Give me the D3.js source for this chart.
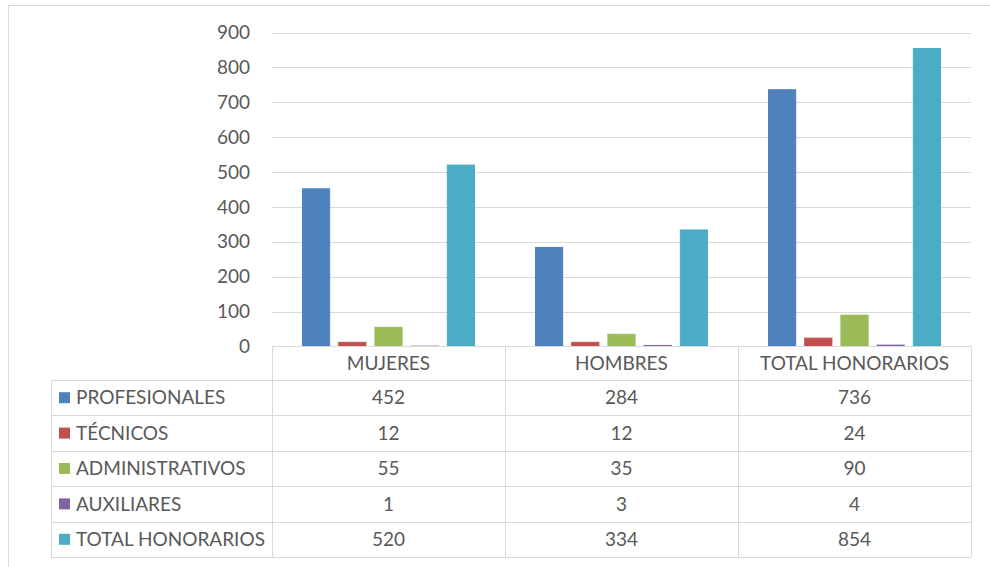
<!DOCTYPE html>
<html>
<head>
<meta charset="utf-8">
<script src="https://cdn.jsdelivr.net/npm/d3@7"></script>
<style>
  body { margin: 0; background: #fff; }
  text { font-family: Lato, "Open Sans", sans-serif; fill: #595959; }
</style>
</head>
<body>
<div id="chart"></div>
<script>
// data
var categories = ["MUJERES", "HOMBRES", "TOTAL HONORARIOS"];
var seriesNames = ["PROFESIONALES", "TÉCNICOS", "ADMINISTRATIVOS", "AUXILIARES", "TOTAL HONORARIOS"];
var profesionales = [452, 284, 736];
var tecnicos = [12, 12, 24];
var administrativos = [55, 35, 90];
var auxiliares = [1, 3, 4];
var totalHonorarios = [520, 334, 854];
var yTicks = [0, 100, 200, 300, 400, 500, 600, 700, 800, 900];
var colors = ["#4F81BD", "#C0504D", "#9BBB59", "#8064A2", "#4BACC6"];

var values = [profesionales, tecnicos, administrativos, auxiliares, totalHonorarios];

var W = 990, H = 567;
var plot = { left: 272, right: 971, top: 32.5, bottom: 346.5 };
var tableLeft = 51, rowH = 35.4, headerH = 33.5;

var svg = d3.select("#chart").append("svg")
    .attr("width", W)
    .attr("height", H);

// outer chart frame
svg.append("rect")
    .attr("x", 8.5).attr("y", 5.5)
    .attr("width", 1000).attr("height", 600)
    .attr("fill", "none")
    .attr("stroke", "#D9D9D9");

var y = d3.scaleLinear().domain([0, 900]).range([plot.bottom, plot.top]);
var x0 = d3.scaleBand().domain(categories).range([plot.left, plot.right]);
var inner = 30;
var x1 = d3.scaleBand().domain(d3.range(seriesNames.length))
    .range([inner, x0.bandwidth() - inner])
    .paddingInner(0.222);

// gridlines
svg.append("g").selectAll("line")
    .data(yTicks.slice(1))
    .join("line")
    .attr("x1", plot.left).attr("x2", plot.right)
    .attr("y1", d => Math.round(y(d)) + 0.5).attr("y2", d => Math.round(y(d)) + 0.5)
    .attr("stroke", "#D9D9D9");

// y labels
svg.append("g").selectAll("text")
    .data(yTicks)
    .join("text")
    .attr("x", 250)
    .attr("y", d => y(d))
    .attr("dy", "0.35em")
    .attr("text-anchor", "end")
    .style("font-size", "19px")
    .text(d => d);

// bars (thin same-colour outline keeps the tiny ones visible, like the original)
var groups = svg.append("g").selectAll("g")
    .data(categories)
    .join("g")
    .attr("transform", d => "translate(" + x0(d) + ",0)");

groups.selectAll("rect")
    .data((c, ci) => values.map((s, si) => ({ si: si, v: s[ci] })))
    .join("rect")
    .attr("x", d => x1(d.si) + 0.5)
    .attr("width", x1.bandwidth() - 1)
    .attr("y", d => y(d.v))
    .attr("height", d => plot.bottom - y(d.v))
    .attr("fill", d => colors[d.si])
    .attr("stroke", d => colors[d.si])
    .attr("stroke-width", 1);

// data table
var tbl = svg.append("g").attr("stroke", "#D9D9D9").attr("fill", "none");
var tableTop = plot.bottom + headerH;
var tableBottom = tableTop + rowH * seriesNames.length;

// horizontal lines
tbl.append("line")
    .attr("x1", plot.left).attr("x2", plot.right)
    .attr("y1", plot.bottom).attr("y2", plot.bottom);
tbl.selectAll("line.h")
    .data(d3.range(seriesNames.length + 1))
    .join("line")
    .attr("class", "h")
    .attr("x1", tableLeft).attr("x2", plot.right)
    .attr("y1", i => Math.round(tableTop + i * rowH) + 0.5)
    .attr("y2", i => Math.round(tableTop + i * rowH) + 0.5);

// vertical lines
tbl.append("line")
    .attr("x1", tableLeft + 0.5).attr("x2", tableLeft + 0.5)
    .attr("y1", tableTop).attr("y2", tableBottom);
tbl.selectAll("line.v")
    .data(categories.map(c => x0(c)).concat([plot.right]))
    .join("line")
    .attr("class", "v")
    .attr("x1", d => Math.round(d) + 0.5).attr("x2", d => Math.round(d) + 0.5)
    .attr("y1", plot.bottom).attr("y2", tableBottom);

// header labels
svg.append("g").selectAll("text")
    .data(categories)
    .join("text")
    .attr("x", d => x0(d) + x0.bandwidth() / 2)
    .attr("y", plot.bottom + headerH / 2)
    .attr("dy", "0.35em")
    .attr("text-anchor", "middle")
    .style("font-size", "19px")
    .text(d => d);

// rows
var rows = svg.append("g").selectAll("g")
    .data(seriesNames)
    .join("g")
    .attr("transform", (d, i) => "translate(0," + (tableTop + i * rowH + rowH / 2) + ")");

rows.append("rect")
    .attr("x", 59).attr("y", -5.5)
    .attr("width", 11).attr("height", 11)
    .attr("fill", (d, i) => colors[i]);

rows.append("text")
    .attr("x", 76)
    .attr("dy", "0.35em")
    .style("font-size", "19px")
    .text(d => d);

rows.each(function(name, si) {
  d3.select(this).selectAll("text.val")
    .data(values[si])
    .join("text")
    .attr("class", "val")
    .attr("x", (v, ci) => x0(categories[ci]) + x0.bandwidth() / 2)
    .attr("dy", "0.35em")
    .attr("text-anchor", "middle")
    .style("font-size", "19px")
    .text(v => v);
});
</script>
</body>
</html>
